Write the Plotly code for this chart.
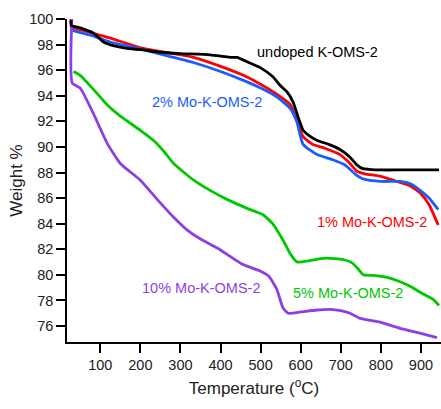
import plotly.graph_objects as go

undoped_T = [27, 28, 50, 83, 108, 135, 167, 200, 250, 300, 374, 424, 441, 470, 499, 530, 549, 566, 581, 595, 606, 620, 641, 670, 698, 723, 740, 755, 770, 800, 850, 900, 945]
undoped_W = [99.9, 99.5, 99.3, 98.9, 98.2, 97.9, 97.7, 97.6, 97.4, 97.3, 97.2, 97.0, 97.0, 96.6, 96.2, 95.5, 94.8, 94.3, 93.5, 92.2, 91.3, 90.9, 90.5, 90.2, 89.8, 89.2, 88.6, 88.3, 88.25, 88.2, 88.2, 88.2, 88.2]

mo1_T = [27, 28, 33, 80, 125, 207, 270, 332, 400, 457, 500, 541, 574, 590, 606, 630, 660, 698, 720, 740, 760, 800, 840, 870, 898, 920, 943]
mo1_W = [100, 99.3, 99.3, 98.9, 98.5, 97.7, 97.35, 97.0, 96.3, 95.6, 94.9, 94.1, 93.3, 92.1, 90.8, 90.2, 89.9, 89.4, 88.8, 88.1, 87.9, 87.7, 87.3, 87.0, 86.4, 85.5, 83.9]

mo2_T = [27, 33, 80, 125, 207, 270, 332, 400, 457, 500, 541, 574, 590, 606, 641, 680, 710, 735, 756, 800, 848, 875, 898, 920, 943]
mo2_W = [99.3, 99.1, 98.7, 98.2, 97.6, 97.1, 96.6, 95.9, 95.2, 94.6, 93.9, 93.0, 92.0, 90.2, 89.4, 89.0, 88.6, 87.9, 87.5, 87.3, 87.3, 87.1, 86.6, 86.0, 85.1]

mo5_T = [33, 50, 83, 117, 150, 200, 233, 260, 283, 333, 374, 416, 474, 491, 506, 530, 556, 575, 591, 620, 660, 706, 730, 745, 756, 780, 815, 845, 873, 900, 930, 945]
mo5_W = [95.9, 95.6, 94.5, 93.3, 92.4, 91.3, 90.5, 89.6, 88.7, 87.4, 86.6, 85.9, 85.1, 84.9, 84.7, 84.0, 82.7, 81.6, 81.0, 81.1, 81.3, 81.2, 80.9, 80.4, 80.0, 79.95, 79.8, 79.5, 79.1, 78.6, 78.1, 77.6]

mo10_T = [29, 30, 50, 83, 117, 150, 200, 242, 283, 317, 350, 392, 456, 499, 520, 540, 556, 569, 600, 640, 674, 700, 723, 748, 798, 850, 890, 940]
mo10_W = [100, 95.0, 94.6, 92.6, 90.3, 88.7, 87.4, 85.9, 84.5, 83.5, 82.8, 82.1, 80.8, 80.3, 79.9, 78.9, 77.4, 77.0, 77.1, 77.25, 77.3, 77.2, 77.0, 76.6, 76.3, 75.8, 75.5, 75.1]

x_ticks = [100, 200, 300, 400, 500, 600, 700, 800, 900]
y_ticks = [76, 78, 80, 82, 84, 86, 88, 90, 92, 94, 96, 98, 100]

series = [
    ("1% Mo-K-OMS-2", mo1_T, mo1_W, "#ff0000", 778, 84.1),
    ("2% Mo-K-OMS-2", mo2_T, mo2_W, "#1a5cff", 367, 93.5),
    ("5% Mo-K-OMS-2", mo5_T, mo5_W, "#00c800", 718, 78.6),
    ("10% Mo-K-OMS-2", mo10_T, mo10_W, "#8e3fe3", 352, 79.0),
    ("undoped K-OMS-2", undoped_T, undoped_W, "#000000", 641, 97.4),
]

fig = go.Figure()
font_family = "Liberation Sans, Arial, sans-serif"
for name, t, w, color, lx, ly in series:
    fig.add_trace(go.Scatter(x=t, y=w, mode="lines", name=name,
                             line=dict(color=color, width=2.8, shape="spline", smoothing=0.5)))
    fig.add_annotation(x=lx, y=ly, text=name, showarrow=False,
                       font=dict(family=font_family, size=14.5, color=color),
                       xanchor="center", yanchor="middle")

axis_common = dict(showgrid=False, zeroline=False, showline=True, linecolor="#000000",
                   linewidth=1.5, ticks="outside", ticklen=9, tickwidth=1.5,
                   tickcolor="#000000", tickfont=dict(family=font_family, size=14.5, color="#222222"))

fig.update_xaxes(range=[17, 950], tickvals=x_ticks,
                 title=dict(text="Temperature (<sup>o</sup>C)", font=dict(family=font_family, size=17, color="#222222"), standoff=10),
                 **axis_common)
fig.update_yaxes(range=[74.75, 100], tickvals=y_ticks,
                 title=dict(text="Weight %", font=dict(family=font_family, size=17, color="#222222"), standoff=2),
                 **axis_common)

fig.update_layout(width=441, height=409, margin=dict(l=67, r=0, t=19, b=67),
                  plot_bgcolor="white", paper_bgcolor="white", showlegend=False,
                  font=dict(family=font_family))

fig.write_html("out.html")
